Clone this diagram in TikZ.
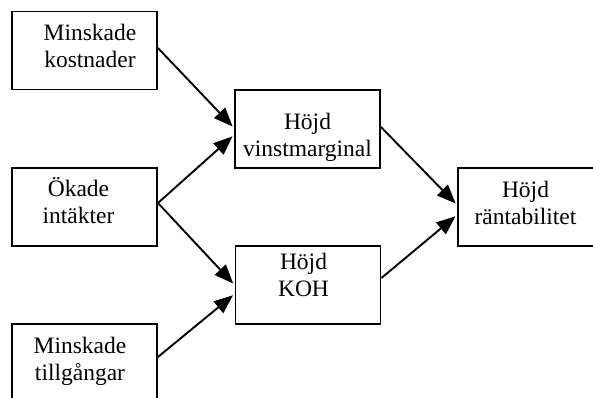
\documentclass[tikz,border=0pt]{standalone}
\usepackage{fontspec}
\setmainfont{Liberation Serif}
\usetikzlibrary{arrows.meta}
\begin{document}
\begin{tikzpicture}[x=1pt,y=1pt,
  box/.style={draw=black,line width=1.9pt,minimum width=145pt,minimum height=78pt,inner sep=0pt},
  lbl/.style={anchor=base,inner sep=0pt,font=\fontsize{23.5pt}{27pt}\selectfont},
  link/.style={line width=1.9pt,shorten >=2pt,-{Triangle[length=19pt,width=15pt]}}]
  \useasboundingbox (0,-398) rectangle (593,0);
  \clip (0,-398) rectangle (593,0);
  % left column: causes
  \node[box] (kost) at (84.5,-50.5) {};
  \node[lbl] (kostT) at ([xshift=5.5pt,yshift=-30pt]kost.north)
    {\parbox[t]{140pt}{\centering Minskade\\kostnader}};
  \node[box] (intakt) at (84.5,-207) {};
  \node[lbl] (intaktT) at ([xshift=-6pt,yshift=-29pt]intakt.north)
    {\parbox[t]{140pt}{\centering Ökade\\intäkter}};
  \node[box] (tillg) at (84.5,-363) {};
  \node[lbl] (tillgT) at ([xshift=-4.5pt,yshift=-30pt]tillg.north)
    {\parbox[t]{140pt}{\centering Minskade\\tillgångar}};
  % middle column
  \node[box] (vinst) at (307.5,-129) {};
  \node[lbl] (vinstT) at ([yshift=-40pt]vinst.north)
    {\parbox[t]{140pt}{\centering Höjd\\vinstmarginal}};
  \node[box] (koh) at (308,-285) {};
  \node[lbl] (kohT) at ([xshift=-4.5pt,yshift=-24pt]koh.north)
    {\parbox[t]{140pt}{\centering Höjd\\KOH}};
  % result
  \node[box,minimum width=137pt] (rant) at (526.5,-207) {};
  \node[lbl] (rantT) at ([xshift=-1pt,yshift=-30pt]rant.north)
    {\parbox[t]{135pt}{\centering Höjd\\räntabilitet}};
  % connectors
  \draw[link] ([yshift=2.5pt]kost.east) -- ([yshift=1pt]vinst.west);
  \draw[link] ([yshift=4pt]intakt.east) -- ([yshift=-6pt]vinst.west);
  \draw[link] ([yshift=4pt]intakt.east) -- (koh.west);
  \draw[link] ([yshift=6pt]tillg.east) -- ([yshift=-9pt]koh.west);
  \draw[link] ([yshift=2pt]vinst.east) -- ([yshift=2pt]rant.west);
  \draw[link] ([yshift=7pt]koh.east) -- ([yshift=-8pt]rant.west);
\end{tikzpicture}
\end{document}
